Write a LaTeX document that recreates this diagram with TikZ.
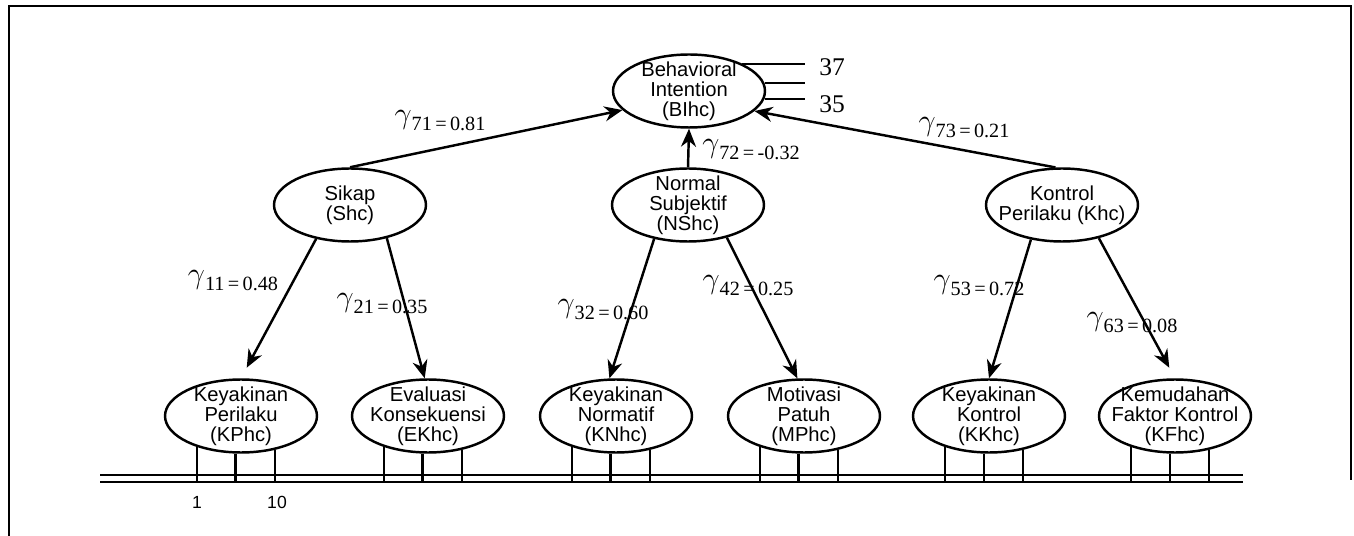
\documentclass[tikz,border=0pt]{standalone}
\usepackage{fontspec}
\setmainfont{Liberation Serif}
\newfontfamily\arialf{Liberation Sans}
\usetikzlibrary{arrows.meta,shapes.geometric}

\newcommand{\gam}[2]{{\fontsize{19}{19}\selectfont$\gamma$}\raisebox{-4pt}{\fontsize{11.5}{11.5}\selectfont#1\,=\,#2}}

\begin{document}
\begin{tikzpicture}[x=0.02cm,y=-0.02cm,
  lat/.style={ellipse,draw,line width=1.4pt,minimum width=3.04cm,minimum height=1.46cm,inner sep=0pt},
  txt/.style={align=center,font=\arialf\fontsize{11.5}{11.5}\selectfont,inner sep=0pt},
  arr/.style={line width=1.4pt,-{Stealth[length=3.6mm,width=3mm]}},
  coef/.style={inner sep=0pt},
  ind/.style={line width=1.4pt}]
  \useasboundingbox (0,0) rectangle (1354,536);
  \draw[line width=1.4pt] (9,536) -- (9,6) -- (1351,6) -- (1351,480);
  % latent variables
  \node[lat] (bi) at (689,91) {};
  \node[txt] (bi-t) at (bi) {Behavioral\\Intention\\(BIhc)};
  \node[lat] (sikap) at (350,205) {};
  \node[txt] (sikap-t) at (sikap) {Sikap\\(Shc)};
  \node[lat] (ns) at (688,205) {};
  \node[txt] (ns-t) at (ns) {Normal\\Subjektif\\(NShc)};
  \node[lat] (kon) at (1062,205) {};
  \node[txt] (kon-t) at (kon) {Kontrol\\Perilaku (Khc)};
  \foreach \n/\x/\t in {kp/241/{Keyakinan\\Perilaku\\(KPhc)},ek/428/{Evaluasi\\Konsekuensi\\(EKhc)},
      kn/616/{Keyakinan\\Normatif\\(KNhc)},mp/804/{Motivasi\\Patuh\\(MPhc)},
      kk/989/{Keyakinan\\Kontrol\\(KKhc)},kf/1175/{Kemudahan\\Faktor Kontrol\\(KFhc)}} {
    \node[lat] (\n) at (\x,416) {};
    \node[txt] (\n-t) at (\n) {\t};}
  % paths
  \draw[arr] (sikap.north) -- (bi.196);
  \draw[arr] (ns.north) -- (bi.south);
  \draw[arr] (kon.100) -- (bi.-17);
  \draw[arr,shorten >=0.24cm] (sikap.225) -- (kp.north);
  \draw[arr] (sikap.-42) -- (ek.95);
  \draw[arr] (ns.225) -- (kn.100);
  \draw[arr] (ns.-40) -- (mp.100);
  \draw[arr] (kon.228) -- (kk.north);
  \draw[arr,shorten >=0.24cm] (kon.-42) -- (kf.north);
  % coefficients
  \node[coef] (g71) at (440,121) {\gam{71}{0.81}};
  \node[coef] (g72) at (751,150) {\gam{72}{-0.32}};
  \node[coef] (g73) at (964,128) {\gam{73}{0.21}};
  \node[coef] (g11) at (233,281) {\gam{11}{0.48}};
  \node[coef] (g21) at (382,304) {\gam{21}{0.35}};
  \node[coef] (g32) at (603,310) {\gam{32}{0.60}};
  \node[coef] (g42) at (748,286) {\gam{42}{0.25}};
  \node[coef] (g53) at (979,286) {\gam{53}{0.72}};
  \node[coef] (g63) at (1132,323) {\gam{63}{0.08}};
  % indicators of BIhc
  \coordinate (i37) at (805,65);
  \draw[ind] (bi.27) -- (bi.27 -| i37);
  \draw[ind] (bi.6) -- (bi.6 -| i37);
  \draw[ind] (bi.-6) -- (bi.-6 -| i37);
  \node[font=\fontsize{14.5}{14.5}\selectfont] (n37) at (832,67) {37};
  \node[font=\fontsize{14.5}{14.5}\selectfont] (n35) at (832,104) {35};
  % indicators of the beliefs
  \coordinate (baseL) at (100,482); \coordinate (baseR) at (1243,482);
  \coordinate (baseL2) at (100,475); \coordinate (baseR2) at (1243,475);
  \draw[line width=1.2pt] (baseL) -- (baseR);
  \draw[line width=1.2pt] (baseL2) -- (baseR2);
  \foreach \n in {kp,ek,kn,mp,kk,kf}
    \foreach \a in {-145,-98,-45}
      \draw[ind] (\n.\a) -- (\n.\a |- baseL);
  \node[font=\arialf\fontsize{10}{10}\selectfont] (t1) at (197,502) {1};
  \node[font=\arialf\fontsize{10}{10}\selectfont] (t10) at (277,502) {10};
\end{tikzpicture}
\end{document}
